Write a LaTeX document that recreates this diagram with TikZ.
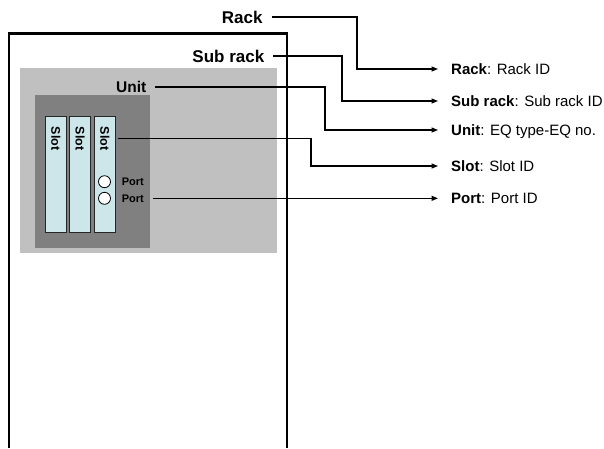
\documentclass[tikz,border=0pt]{standalone}
\usepackage{fontspec}
\setmainfont{Liberation Sans}
\usetikzlibrary{arrows.meta}
\definecolor{subgray}{RGB}{192,192,192}
\definecolor{unitgray}{RGB}{128,128,128}
\definecolor{slotcyan}{RGB}{204,230,234}
\begin{document}
\begin{tikzpicture}[x=1pt,y=-1pt,
  biglabel/.style={font=\fontsize{17}{20}\selectfont\bfseries, inner sep=0pt, text height=12.2pt, text depth=0pt, anchor=east},
  unitlabel/.style={font=\fontsize{15.5}{18}\selectfont\bfseries, inner sep=0pt, text height=11.1pt, text depth=0pt, anchor=east},
  rightlabel/.style={font=\fontsize{15}{18}\selectfont, inner sep=0pt, text height=10.7pt, text depth=0pt, anchor=west},
  slotbox/.style={draw=black!85, fill=slotcyan, line width=0.8pt, inner sep=0pt, minimum width=21.5pt, minimum height=116.7pt},
  slottext/.style={font=\fontsize{12.5}{15}\selectfont\bfseries, inner sep=0pt, text height=9pt, text depth=0pt, rotate=-90},
  portcircle/.style={circle, draw=black, fill=white, line width=0.8pt, inner sep=0pt, minimum size=12pt},
  portlabel/.style={font=\fontsize{11}{13}\selectfont\bfseries, inner sep=0pt, text height=7.9pt, text depth=0pt, anchor=west},
  conn/.style={line width=1.2pt},
  arr/.style={line width=1.2pt, -{Triangle[length=6.5pt,width=5pt]}}
]
\useasboundingbox (0,0) rectangle (604,448);
% sub rack and unit areas
\fill[subgray] (20,68) rectangle (277,253);
\fill[unitgray] (35,95) rectangle (150,248);
% rack frame (open at the bottom)
\draw[line width=2.5pt] (9,448) -- (9,33.5) -- (287,33.5) -- (287,448);
% slots
\node[slotbox] (slot1) at (55.85,174.35) {};
\node[slotbox] (slot2) at (80,174.35) {};
\node[slotbox] (slot3) at (104.85,174.35) {};
\node[slottext] (st1) at (55.85,138.7) {Slot};
\node[slottext] (st2) at (80,138.7) {Slot};
\node[slottext] (st3) at (104.85,138.7) {Slot};
% ports
\node[portcircle] (pc1) at (104.5,181.7) {};
\node[portcircle] (pc2) at (104.5,198.3) {};
\node[portlabel] (pl1) at (121.7,181.7) {Port};
\node[portlabel] (pl2) at (121.7,198.3) {Port};
% left labels
\node[biglabel] (rackL) at (262.7,17) {Rack};
\node[biglabel] (subL) at (264.5,56) {Sub rack};
\node[unitlabel] (unitL) at (146.5,87) {Unit};
% right labels
\node[rightlabel] (rackR) at (451,69) {\textbf{Rack}: Rack ID};
\node[rightlabel] (subR) at (451,101) {\textbf{Sub rack}: Sub rack ID};
\node[rightlabel] (unitR) at (451,130) {\textbf{Unit}: EQ type-EQ no.};
\node[rightlabel] (slotR) at (451,166) {\textbf{Slot}: Slot ID};
\node[rightlabel] (portR) at (451,198.3) {\textbf{Port}: Port ID};
% bend columns
\coordinate (bRack) at (357,0);
\coordinate (bSub) at (342,0);
\coordinate (bUnit) at (325,0);
\coordinate (bSlot) at (311,0);
% connectors
\draw[arr] ([xshift=9pt]rackL.east) -- (rackL.east -| bRack) |- ([xshift=-13pt]rackR.west);
\draw[arr] ([xshift=8.5pt]subL.east) -- (subL.east -| bSub) |- ([xshift=-13pt]subR.west);
\draw[arr] ([xshift=8.5pt]unitL.east) -- (unitL.east -| bUnit) |- ([xshift=-13pt]unitR.west);
\draw[arr] ([xshift=1.5pt]st3 -| slot3.east) -- (st3 -| bSlot) |- ([xshift=-13pt]slotR.west);
\draw[arr] ([xshift=8.7pt]pl2.east) -- ([xshift=-13pt]portR.west);
\end{tikzpicture}
\end{document}
